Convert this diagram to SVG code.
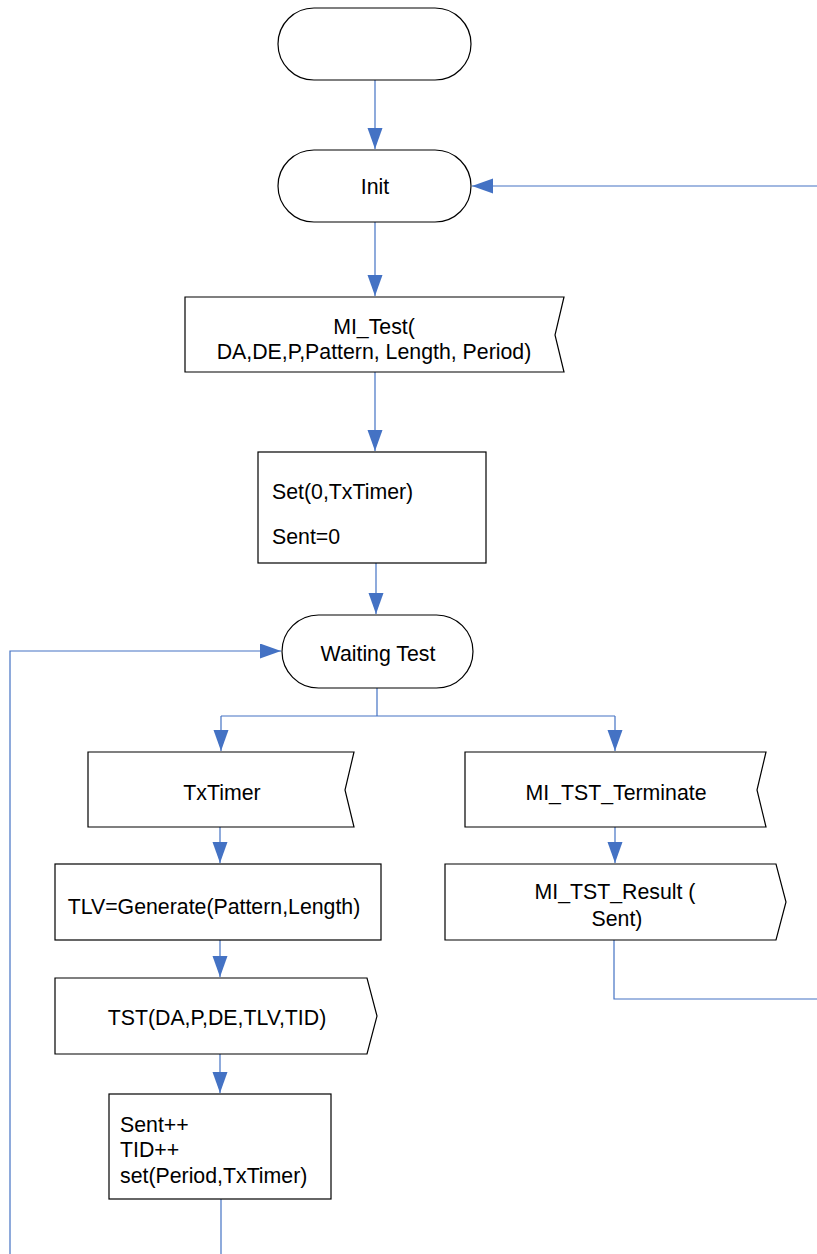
<svg xmlns="http://www.w3.org/2000/svg" width="817" height="1254" viewBox="0 0 817 1254">
<defs>
<style>
.shape{fill:#fff;stroke:#000;stroke-width:1.2}
.t{font-family:"Liberation Sans",Arial,sans-serif;font-size:21.3px;fill:#000}
.m{text-anchor:middle}
.c{fill:none;stroke:#4472C4;stroke-width:1.2}
</style>
<marker id="ah" markerUnits="userSpaceOnUse" markerWidth="22" markerHeight="16" refX="21" refY="7.5" orient="auto">
<path d="M0,0 L21,7.5 L0,15 z" fill="#4472C4"/>
</marker>
</defs>
<rect width="817" height="1254" fill="#fff"/>
<g id="connectors">
<path class="c" d="M375,80 V149" marker-end="url(#ah)"/>
<path class="c" d="M817,186 H472" marker-end="url(#ah)"/>
<path class="c" d="M375,222 V296" marker-end="url(#ah)"/>
<path class="c" d="M375,372 V451" marker-end="url(#ah)"/>
<path class="c" d="M376,563 V614" marker-end="url(#ah)"/>
<path class="c" d="M377,688 V716"/>
<path class="c" d="M221,716 H615"/>
<path class="c" d="M221,716 V751" marker-end="url(#ah)"/>
<path class="c" d="M615,716 V751" marker-end="url(#ah)"/>
<path class="c" d="M220,827 V863" marker-end="url(#ah)"/>
<path class="c" d="M220,940 V977" marker-end="url(#ah)"/>
<path class="c" d="M220,1054 V1093" marker-end="url(#ah)"/>
<path class="c" d="M221,1199 V1254"/>
<path class="c" d="M10,1254 V651 H281" marker-end="url(#ah)"/>
<path class="c" d="M615,827 V863" marker-end="url(#ah)"/>
<path class="c" d="M614,940 V999 H817"/>
</g>
<g id="start">
<rect class="shape" x="278" y="8" width="193" height="72" rx="36" ry="36"/>
</g>
<g id="init">
<rect class="shape" x="278" y="150" width="193" height="72" rx="36" ry="36"/>
<text class="t m" x="375" y="194">Init</text>
</g>
<g id="mi-test">
<path class="shape" d="M185,297 H564 L555,335 L564,372 H185 Z"/>
<text class="t m" x="374" y="334">MI_Test(</text>
<text class="t m" x="374" y="359">DA,DE,P,Pattern, Length, Period)</text>
</g>
<g id="set-box">
<rect class="shape" x="258" y="452" width="228" height="111"/>
<text class="t" x="272" y="499">Set(0,TxTimer)</text>
<text class="t" x="272" y="544">Sent=0</text>
</g>
<g id="waiting-test">
<rect class="shape" x="282" y="615" width="191" height="73" rx="36.5" ry="36.5"/>
<text class="t m" x="378" y="661">Waiting Test</text>
</g>
<g id="txtimer">
<path class="shape" d="M88,752 H354 L345,790 L354,827 H88 Z"/>
<text class="t m" x="222" y="800">TxTimer</text>
</g>
<g id="mi-tst-terminate">
<path class="shape" d="M465,752 H766 L757,790 L766,827 H465 Z"/>
<text class="t m" x="616" y="800">MI_TST_Terminate</text>
</g>
<g id="tlv">
<rect class="shape" x="55" y="864" width="326" height="76"/>
<text class="t m" x="214" y="914">TLV=Generate(Pattern,Length)</text>
</g>
<g id="mi-tst-result">
<path class="shape" d="M445,864 H776 L786,902 L776,940 H445 Z"/>
<text class="t m" x="615" y="899">MI_TST_Result (</text>
<text class="t m" x="617" y="926">Sent)</text>
</g>
<g id="tst">
<path class="shape" d="M55,978 H367 L377,1016 L367,1054 H55 Z"/>
<text class="t m" x="217" y="1025">TST(DA,P,DE,TLV,TID)</text>
</g>
<g id="sent-box">
<rect class="shape" x="109" y="1094" width="222" height="105"/>
<text class="t" x="120" y="1132">Sent++</text>
<text class="t" x="120" y="1157">TID++</text>
<text class="t" x="120" y="1183">set(Period,TxTimer)</text>
</g>
</svg>
